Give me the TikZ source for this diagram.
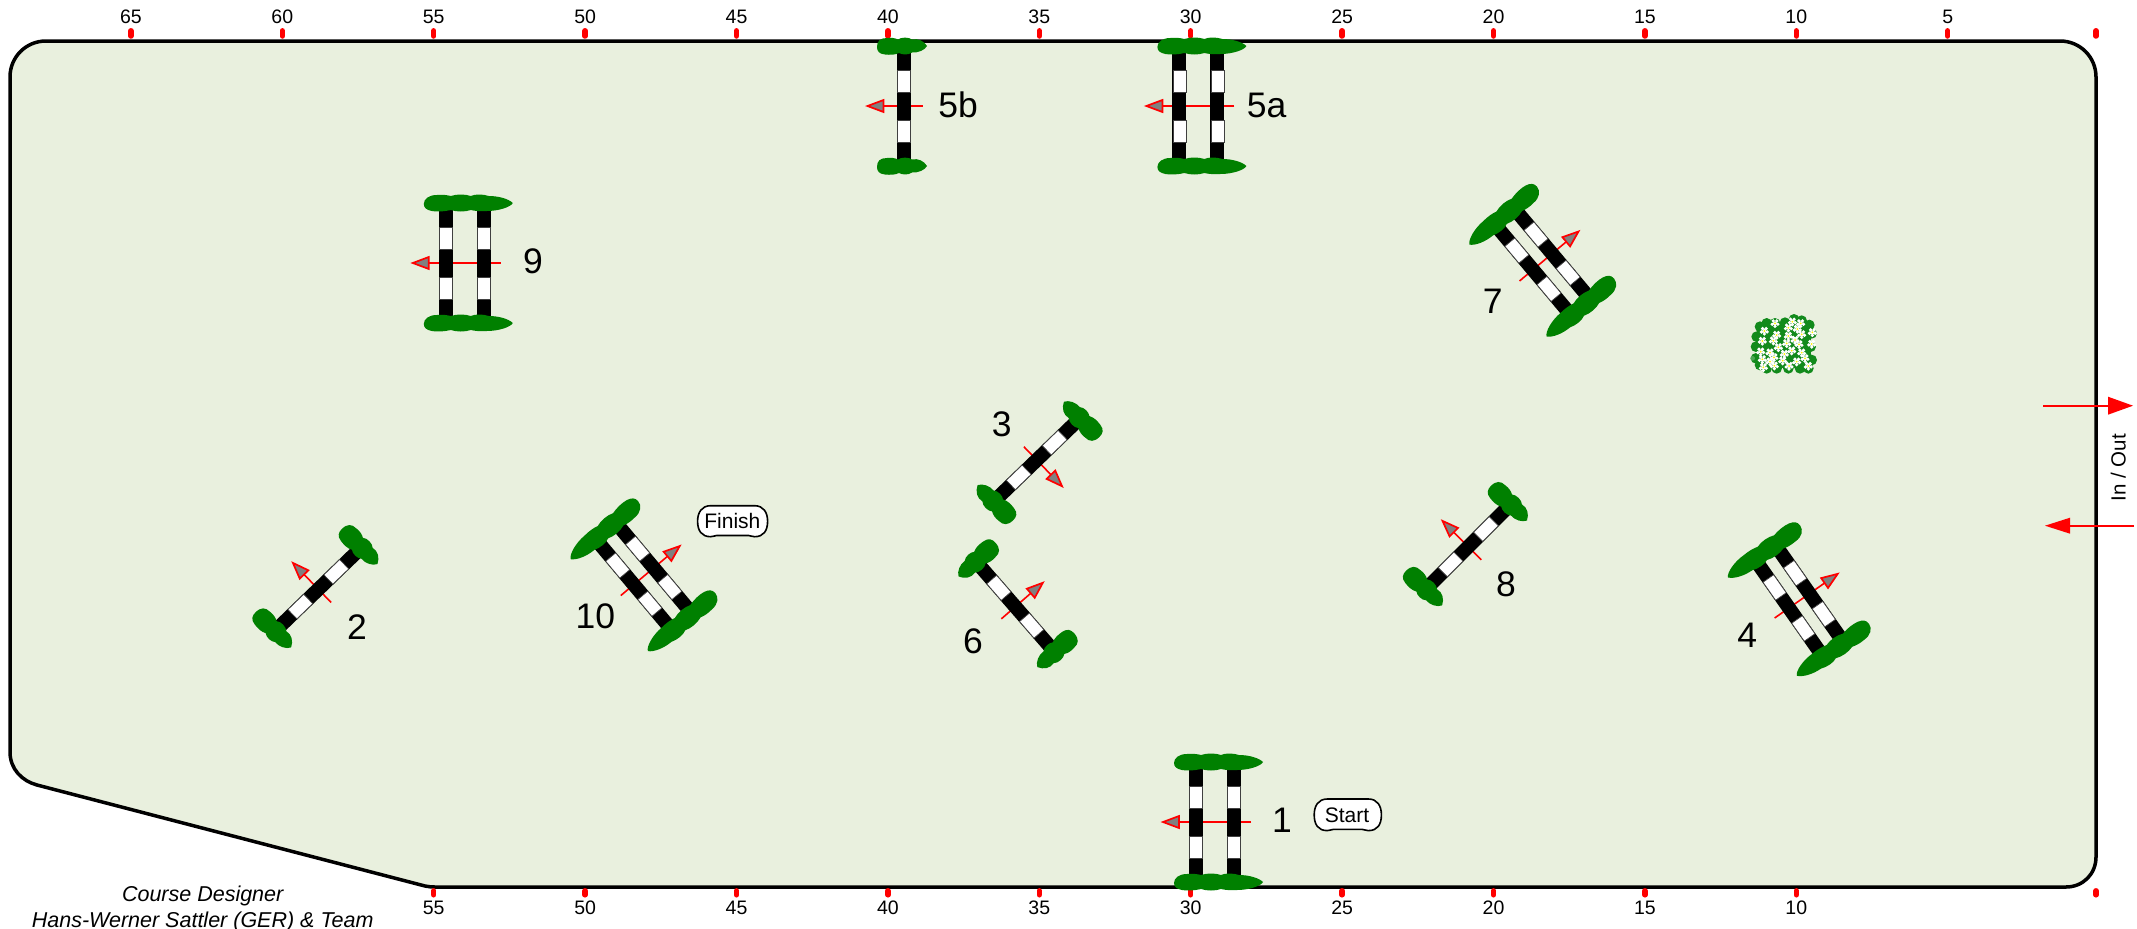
\documentclass[tikz,border=0pt]{standalone}
\usepackage{fontspec}
\setmainfont{Liberation Sans}
\definecolor{arena}{HTML}{E9F0DE}
\definecolor{bushc}{HTML}{008000}
\definecolor{bedc}{HTML}{128A1C}
\newcommand{\fs}[1]{\fontsize{#1}{#1}\selectfont}
\tikzset{
  ticklabel/.style={inner sep=0pt,font=\fs{19.5}},
  jumplabel/.style={inner sep=0pt,font=\fs{35.5}},
  tagtext/.style={inner sep=0pt,anchor=base,font=\fs{21}},
  credit/.style={inner sep=0pt,anchor=base,font=\fs{21.5}\itshape},
  tickmark/.style={draw=red,line width=5.5pt,line cap=round},
  dirline/.style={draw=red,line width=1.6pt},
  dirhead/.style={draw=red,fill=gray,line width=1.7pt,line join=miter},
  gatearrow/.style={draw=red,line width=2pt},
  tagbox/.style={draw=black,fill=white,line width=1.6pt},
  stripe/.style={fill=white,draw=black!75,line width=.7pt}
}
% one rail at local x
\newcommand{\railat}[1]{%
  \fill[black] (#1-7,-54) rectangle (#1+7,54);
  \path[stripe] (#1-6.5,-36) rectangle (#1+6.5,-14);
  \path[stripe] (#1-6.5,14) rectangle (#1+6.5,36);
}
% #1 local y, #2 scope options
\newcommand{\bushD}[2]{%
  \begin{scope}[shift={(0,#1)},#2]
  \fill[bushc] (-41,1) .. controls (-41,-4) and (-36,-8) .. (-28,-8)
    .. controls (-22,-8.5) and (-18,-8) .. (-14,-7)
    .. controls (-8,-9) and (0,-9) .. (6,-7)
    .. controls (10,-9) and (18,-9) .. (24,-7)
    .. controls (34,-7) and (44,-4) .. (48,0)
    .. controls (46,4) and (34,8) .. (22,8)
    .. controls (16,8.5) and (10,8) .. (6,7)
    .. controls (0,9) and (-8,9) .. (-14,7)
    .. controls (-20,8.5) and (-28,9) .. (-33,8)
    .. controls (-38,7) and (-41,5) .. (-41,1) -- cycle;
  \end{scope}
}
\newcommand{\bushS}[2]{%
  \begin{scope}[shift={(0,#1)},#2]
  \fill[bushc] (-27,1) .. controls (-27,-5) and (-24,-8) .. (-17,-8)
    .. controls (-13,-8.5) and (-9,-8) .. (-6,-6.5)
    .. controls (-3,-9) and (5,-9) .. (8,-6.5)
    .. controls (14,-8) and (20,-5) .. (23,0)
    .. controls (21,4) and (14,7) .. (8,6.5)
    .. controls (5,9) and (-2,9) .. (-5,7)
    .. controls (-9,9) and (-14,9) .. (-19,8.5)
    .. controls (-25,8) and (-27,5) .. (-27,1) -- cycle;
  \end{scope}
}
% x, y, rotation, half rail spacing, arrow tail, arrow tip, bush options
\newcommand{\jumpD}[7]{%
  \begin{scope}[shift={(#1,#2)},rotate=#3]
  \draw[dirline] (#5,0) -- (#6+15,0);
  \draw[dirhead] (#6,0) -- (#6+16,-6) -- (#6+16,6) -- cycle;
  \railat{-#4}\railat{#4}
  \bushD{-60}{#7}\bushD{60}{#7}
  \end{scope}
}
\newcommand{\jumpS}[4]{%
  \begin{scope}[shift={(#1,#2)},rotate=#3]
  \draw[dirline] (18.5,0) -- (-21,0);
  \draw[dirhead] (-36.5,0) -- (-20.5,-6) -- (-20.5,6) -- cycle;
  \railat{0}
  \bushS{-60}{#4}\bushS{60}{#4}
  \end{scope}
}
% tag outline: centre x, y, half width, half height
\newcommand{\tagshape}[4]{%
  \begin{scope}[shift={(#1,#2)}]
  \draw[tagbox] (-#3+13,-#4) -- (#3-13,-#4)
    .. controls (#3-4,-#4) and (#3,-#4+7) .. (#3,0)
    .. controls (#3,#4-6) and (#3-4,#4) .. (#3-13,#4)
    .. controls (#3-16,#4) and (#3-17,#4-1.2) .. (#3-19,#4-1.2)
    -- (-#3+19,#4-1.2)
    .. controls (-#3+17,#4-1.2) and (-#3+16,#4) .. (-#3+13,#4)
    .. controls (-#3+4,#4) and (-#3,#4-6) .. (-#3,0)
    .. controls (-#3,-#4+7) and (-#3+4,-#4) .. (-#3+13,-#4) -- cycle;
  \end{scope}
}
\newcommand{\flower}[2]{%
  \begin{scope}[shift={(#1,#2)}]
  \foreach \a in {18,90,162,234,306}{\fill[white] (\a:9) circle [radius=5.5];}
  \fill[white] (0,0) circle [radius=6];
  \fill[yellow] (0,0) circle [radius=3];
  \end{scope}
}
\begin{document}
\begin{tikzpicture}[x=1pt,y=-1pt]
\useasboundingbox (0,0) rectangle (2137,929);
\fill[white] (0,0) rectangle (2137,929);
% arena
\draw[fill=arena,draw=black,line width=3.5pt,line join=round]
  (46,41) -- (2060,41) .. controls (2080,41) and (2096,57) .. (2096,77)
  -- (2096,857) .. controls (2096,874) and (2083,887) .. (2066,887)
  -- (437,887) .. controls (432,887) and (429,887) .. (425,886)
  -- (37,785) .. controls (22,781) and (10,769) .. (10,752)
  -- (10,77) .. controls (10,57) and (26,41) .. (46,41) -- cycle;
% ticks
\foreach \m in {65,60,...,5}{
  \pgfmathsetmacro{\tx}{1190.7+(30-\m)*30.28}
  \draw[tickmark] (\tx,30.8) -- (\tx,36);
  \node[ticklabel] (top\m) at (\tx,17) {\m};
}
\foreach \m in {55,50,...,10}{
  \pgfmathsetmacro{\tx}{1190.7+(30-\m)*30.28}
  \draw[tickmark] (\tx,890.8) -- (\tx,894.8);
  \node[ticklabel] (bot\m) at (\tx,908) {\m};
}
\draw[tickmark] (2096,30.8) -- (2096,36);
\draw[tickmark] (2096,890.8) -- (2096,894.8);
% jumps
\jumpD{1215}{822}{0}{19}{36}{-52}{yscale=1}
\jumpS{318.3}{589.2}{-46}{yscale=1.2}
\jumpS{1036.7}{460}{134}{yscale=1.2}
\jumpD{1799.2}{600.8}{-145}{12.5}{30}{-47}{yscale=1.15,xshift=-3}
\jumpD{1198.4}{106}{0}{19}{36}{-52}{yscale=1}
\jumpS{904}{106}{0}{yscale=1}
\jumpS{1015.3}{606.7}{-139}{yscale=1.2}
\jumpD{1542.5}{261.7}{-140}{12.5}{30}{-47}{yscale=1.15,xshift=-3}
\jumpS{1468.3}{546.7}{-45}{yscale=1.2}
\jumpD{464.8}{263}{0}{19}{36}{-52}{yscale=1}
\jumpD{643.75}{576.25}{-140}{13}{30}{-47}{yscale=1.15,xshift=-3}
% jump numbers
\node[jumplabel] (n1) at (1282,820) {1};
\node[jumplabel] (n2) at (357,626.7) {2};
\node[jumplabel] (n3) at (1001.7,424.3) {3};
\node[jumplabel] (n4) at (1747.3,635.7) {4};
\node[jumplabel] (n5a) at (1266.7,105) {5a};
\node[jumplabel] (n5b) at (958,105) {5b};
\node[jumplabel] (n6) at (973,641.7) {6};
\node[jumplabel] (n7) at (1492.7,301.7) {7};
\node[jumplabel] (n8) at (1506,584) {8};
\node[jumplabel] (n9) at (533,261.7) {9};
\node[jumplabel] (n10) at (595.4,616.7) {10};
% start / finish
\tagshape{1347.8}{814.8}{33.6}{15.8}
\node[tagtext] (start) at (1347,822.7) {Start};
\tagshape{732.6}{521.2}{35}{15.5}
\node[tagtext] (finish) at (732.4,528.4) {Finish};
% flower bed
\begin{scope}[shift={(1720,290)},scale=1/3]
  \fill[bedc] (112,100) rectangle (272,235);
  \foreach \p/\q in {120/110,110/140,108/170,108/205,120/225,140/235,170/235,205/235,240/235,265/235,275/210,272/170,275/130,268/105,245/92,222/88,195/98,165/100,140/100}
    {\fill[bedc] (\p,\q) circle [radius=16];}
  \fill[white!25!bedc] (98,205) circle [radius=7];
  \foreach \p/\q in {165/100,133/123,127/153,122/185,127/208,130/232,170/135,205/113,217/95,242/100,232/117,245/133,277/127,205/138,225/150,200/160,237/163,275/162,175/172,160/152,215/182,245/188,193/192,162/202,188/212,150/215,255/205,230/215,207/228,163/227,265/228,150/188}
    {\flower{\p}{\q}}
\end{scope}
% in / out
\coordinate (inA) at (2043.3,405.7);
\coordinate (inB) at (2108,405.7);
\coordinate (outA) at (2134,525.7);
\coordinate (outB) at (2070,525.7);
\draw[gatearrow] (inA) -- (inB);
\fill[red] (2133,405.7) -- (2108,396.7) -- (2108,414.7) -- cycle;
\draw[gatearrow] (outA) -- (outB);
\fill[red] (2045,525.7) -- (2070,517.7) -- (2070,533.7) -- cycle;
\node[inner sep=0pt,rotate=90,font=\fs{20.5}] (inout) at (2118.3,467.7) {In / Out};
% credit
\node[credit] (cd) at (202.7,901.7) {Course Designer};
\node[credit] (hw) at (202.7,927.7) {Hans-Werner Sattler (GER) \& Team};
\end{tikzpicture}
\end{document}
